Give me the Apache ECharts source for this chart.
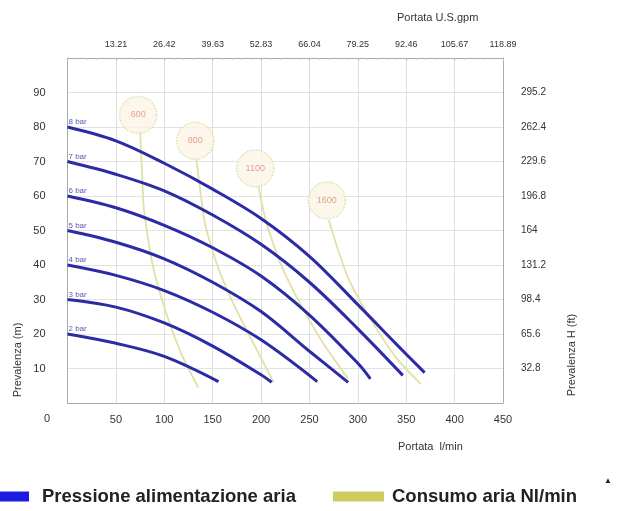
<!DOCTYPE html>
<html>
<head>
<meta charset="utf-8">
<script src="https://cdn.jsdelivr.net/npm/echarts@6/dist/echarts.min.js"></script>
<style>html,body{margin:0;padding:0;background:#fff;}#c{width:617px;height:511px;}</style>
</head>
<body>
<div id="c"></div>
<script>
// ---- data (flow l/min, head m) ----
const pressureNames = ['2 bar','3 bar','4 bar','5 bar','6 bar','7 bar','8 bar'];
const p2 = [[0,20],[50,17.3],[100,13.5],[156,6.2]];
const p3 = [[0,30],[50,27.8],[100,23.2],[150,16.5],[200,8.2],[211,6]];
const p4 = [[0,40],[50,37],[100,32.6],[150,26.3],[200,18.3],[258,6.2]];
const p5 = [[0,50],[50,46.6],[100,41.8],[150,35],[200,26.5],[250,15],[290,6]];
const p6 = [[0,60],[50,56.6],[100,51.5],[150,45],[200,36.8],[250,25.5],[300,11.5],[313,7]];
const p7 = [[0,70],[50,66.3],[100,61.5],[150,54.5],[200,46],[250,35],[300,21.5],[346.5,8]];
const p8 = [[0,80],[50,76],[100,69.5],[150,62],[200,53.5],[250,42.5],[300,28.5],[340,17],[369,8.8]];
const pressureCurves = [p2,p3,p4,p5,p6,p7,p8];

const consumptionNames = ['600','800','1100','1600'];
const c600  = [[75,79],[77,67],[79,56],[88,40],[102,26],[118,14],[135,4.5]];
const c800  = [[133,71],[137,62],[142,52],[154,40.5],[171,29],[192,17.4],[213,6]];
const c1100 = [[197,63],[203,55],[208,50],[220,40.5],[240,29],[264,17.4],[290,7]];
const c1600 = [[270,53],[280,44],[292,35],[316,23],[340,13],[365,5.5]];
const consumptionCurves = [c600,c800,c1100,c1600];
const consumptionMarkers = [[73,83.5],[132,76],[194,68],[268,58.7]];

const topTickLabels = ['13.21','26.42','39.63','52.83','66.04','79.25','92.46','105.67','118.89'];
const rightTickLabels = ['32.8','65.6','98.4','131.2','164','196.8','229.6','262.4','295.2'];

// ---- chart ----
const FONT = 'Liberation Sans, Arial, sans-serif';
const LINE_BLUE = '#2b2ba6';
const LINE_YEL = '#dfe2a6';
const chart = echarts.init(document.getElementById('c'), null, {renderer:'canvas'});

const series = [];
consumptionCurves.forEach((d) => {
  series.push({
    name: 'Consumo aria Nl/min', type: 'line', data: d, smooth: 0.2,
    showSymbol: false, lineStyle: {color: LINE_YEL, width: 1.8}, itemStyle: {color: LINE_YEL},
    z: 2, silent: true, xAxisIndex: 0, yAxisIndex: 0
  });
});
series.push({
  name: 'markers', type: 'scatter', data: consumptionMarkers.map((p, i) => ({value: p, name: consumptionNames[i]})),
  symbol: 'circle', symbolSize: 37, z: 3, silent: true,
  itemStyle: {color: '#fdf5e6', borderColor: '#d6da9a', borderWidth: 1.5, borderType: 'dotted'},
  label: {show: true, position: 'inside', formatter: (p) => p.name, color: '#d98c72', fontSize: 9, fontFamily: FONT}
});
pressureCurves.forEach((d) => {
  series.push({
    name: 'Pressione alimentazione aria', type: 'line', data: d, smooth: 0.35,
    showSymbol: false, lineStyle: {color: LINE_BLUE, width: 3}, itemStyle: {color: LINE_BLUE},
    z: 4, silent: true
  });
});
series.push({
  name: 'barLabels', type: 'scatter', symbolSize: 0, z: 5, silent: true,
  data: pressureCurves.map((d, i) => ({value: d[0], name: pressureNames[i]})),
  label: {show: true, position: [1, -1], align: 'left', verticalAlign: 'bottom',
    formatter: (p) => p.name, color: LINE_BLUE, fontSize: 8, fontFamily: FONT}
});

const axisLabelStyle = {color: '#333', fontSize: 11, fontFamily: FONT};

chart.setOption({
  animation: false,
  backgroundColor: '#fff',
  grid: {left: 67.5, right: 114, top: 58, bottom: 108, containLabel: false},
  xAxis: [
    {type: 'value', position: 'bottom', min: 0, max: 450, interval: 50,
     axisLine: {show: true, onZero: false, lineStyle: {color: '#aaa'}}, axisTick: {show: false},
     splitLine: {show: true, lineStyle: {color: '#dedede'}},
     axisLabel: Object.assign({margin: 11, formatter: (v) => v === 0 ? '' : String(v)}, axisLabelStyle)},
    {type: 'value', position: 'top', min: 0, max: 450, interval: 50,
     axisLine: {show: true, onZero: false, lineStyle: {color: '#aaa'}},
     axisTick: {show: true, inside: true, length: 3, lineStyle: {color: '#bbb'}},
     minorTick: {show: true, splitNumber: 5, length: 2, lineStyle: {color: '#ccc'}},
     splitLine: {show: false},
     axisLabel: {margin: 9, color: '#333', fontSize: 9, fontFamily: FONT,
       formatter: (v) => v === 0 ? '' : (topTickLabels[v / 50 - 1] || '')}}
  ],
  yAxis: [
    {type: 'value', position: 'left', min: 0, max: 100, interval: 10,
     axisLine: {show: true, onZero: false, lineStyle: {color: '#aaa'}}, axisTick: {show: false},
     splitLine: {show: true, lineStyle: {color: '#e2e2e2'}},
     axisLabel: Object.assign({margin: 22, formatter: (v) => (v === 0 || v === 100) ? '' : String(v)}, axisLabelStyle)},
    {type: 'value', position: 'right', min: 0, max: 100, interval: 10,
     axisLine: {show: true, onZero: false, lineStyle: {color: '#aaa'}}, axisTick: {show: false},
     splitLine: {show: false},
     axisLabel: {margin: 18, color: '#333', fontSize: 10, fontFamily: FONT,
       formatter: (v) => (v === 0 || v === 100) ? '' : (rightTickLabels[v / 10 - 1] || '')}}
  ],
  legend: [
    {left: -16, top: 482, itemWidth: 40, itemHeight: 10, selectedMode: false,
     textStyle: {fontSize: 18.5, fontWeight: 'bold', color: '#222', fontFamily: FONT, padding: [0, 0, 0, 8]},
     data: [{name: 'Pressione alimentazione aria', icon: 'rect', itemStyle: {color: '#1c1ce0'}}]},
    {left: 328, top: 482, itemWidth: 51, itemHeight: 10, selectedMode: false,
     textStyle: {fontSize: 18.5, fontWeight: 'bold', color: '#222', fontFamily: FONT, padding: [0, 0, 0, 3]},
     data: [{name: 'Consumo aria Nl/min', icon: 'rect', itemStyle: {color: '#cccc60'}}]}
  ],
  graphic: [
    {type: 'text', left: 44, top: 413, style: {text: '0', fill: '#333', font: '11px ' + FONT}},
    {type: 'text', left: 397, top: 12, style: {text: 'Portata U.S.gpm', fill: '#333', font: '11px ' + FONT}},
    {type: 'text', left: 398, top: 441, style: {text: 'Portata  l/min', fill: '#333', font: '11px ' + FONT}},
    {type: 'text', x: 18, y: 360, rotation: Math.PI / 2,
     style: {text: 'Prevalenza (m)', fill: '#333', font: '11px ' + FONT, align: 'center', verticalAlign: 'middle'}},
    {type: 'text', x: 572, y: 355, rotation: Math.PI / 2,
     style: {text: 'Prevalenza H (ft)', fill: '#333', font: '11px ' + FONT, align: 'center', verticalAlign: 'middle'}},
    {type: 'text', left: 604, top: 477, style: {text: '\u25B2', fill: '#222', font: '8px ' + FONT}}
  ],
  series: series
});
</script>
</body>
</html>
